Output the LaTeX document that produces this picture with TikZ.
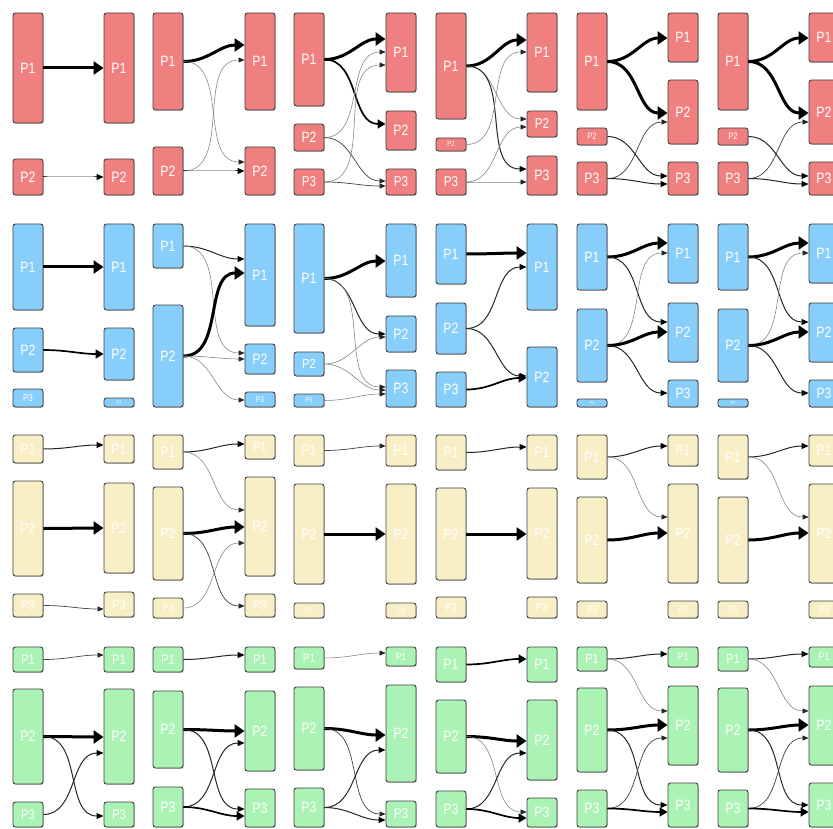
\documentclass[tikz,border=0pt]{standalone}
\usepackage{fontspec}
\newfontfamily\lab[FakeStretch=0.82]{Liberation Sans}
\usetikzlibrary{arrows.meta,shadows,calc}
\definecolor{redc}{HTML}{F08080}
\definecolor{bluec}{HTML}{87CEFA}
\definecolor{yelc}{HTML}{F9EFC6}
\definecolor{grnc}{HTML}{ABF2B5}
\definecolor{bordc}{HTML}{404040}
\tikzset{
  box/.style={draw=bordc, line width=0.9pt, rounded corners=2.5pt, minimum width=30pt,
    inner sep=0pt, text=white,
    drop shadow={shadow xshift=0.8pt, shadow yshift=-0.8pt, opacity=0.25, fill=black}},
  w1/.style={line width=0.55pt, draw=black!50, -{Triangle[length=6pt,width=5pt,color=black!85]}},
  w1d/.style={line width=0.7pt, draw=black!75, -{Triangle[length=6pt,width=5pt,color=black!85]}},
  w2/.style={line width=1pt, draw=black!85, -{Triangle[length=7pt,width=6pt,color=black]}},
  w3/.style={line width=1.7pt, draw=black, -{Triangle[length=8pt,width=9pt]}},
  w4/.style={line width=3pt, draw=black, -{Triangle[length=10pt,width=13pt]}},
}
\newcommand\bx[5]{%
  \pgfmathsetmacro\bh{#4-#3}\pgfmathsetmacro\fs{min(15,0.55*\bh)}%
  \node[box, minimum height=\bh pt, font=\lab\fontsize{\fs}{\fs}\selectfont] (#1) at ({#2+15},{(#3+#4)/2}) {#5};}
\newcommand\ed[4]{\draw[#1] (#2.east) to[out=0,in=180] (#3.west |- 0,#4);}
\begin{document}
\begin{tikzpicture}[x=1pt,y=-1pt]
\useasboundingbox (0,0) rectangle (833,829);
\fill[white] (0,0) rectangle (833,829);
% ---------------- Row A (red)
\begin{scope}[box/.append style={fill=redc}]
\bx{A1l1}{13}{13}{123}{P1}\bx{A1l2}{13}{159}{195}{P2}
\bx{A1r1}{104}{13}{123}{P1}\bx{A1r2}{104}{159}{195}{P2}
\bx{A2l1}{153}{13}{110}{P1}\bx{A2l2}{153}{147}{195}{P2}
\bx{A2r1}{245}{13}{110}{P1}\bx{A2r2}{245}{147}{195}{P2}
\bx{A3l1}{294}{13}{106}{P1}\bx{A3l2}{294}{124}{151}{P2}\bx{A3l3}{294}{169}{195}{P3}
\bx{A3r1}{386}{13}{92}{P1}\bx{A3r2}{386}{111}{150}{P2}\bx{A3r3}{386}{169}{195}{P3}
\bx{A4l1}{436}{13}{119}{P1}\bx{A4l2}{436}{138}{151}{P2}\bx{A4l3}{436}{169}{195}{P3}
\bx{A4r1}{527}{13}{92}{P1}\bx{A4r2}{527}{111}{137}{P2}\bx{A4r3}{527}{156}{195}{P3}
\bx{A5l1}{577}{13}{110}{P1}\bx{A5l2}{577}{128}{145}{P2}\bx{A5l3}{577}{162}{195}{P3}
\bx{A5r1}{668}{13}{62}{P1}\bx{A5r2}{668}{80}{144}{P2}\bx{A5r3}{668}{162}{195}{P3}
\bx{A6l1}{718}{13}{110}{P1}\bx{A6l2}{718}{128}{145}{P2}\bx{A6l3}{718}{162}{195}{P3}
\bx{A6r1}{809}{13}{62}{P1}\bx{A6r2}{809}{80}{144}{P2}\bx{A6r3}{809}{162}{195}{P3}
\end{scope}
\ed{w4}{A1l1}{A1r1}{68}\ed{w2}{A1l2}{A1r2}{177}
\ed{w4}{A2l1}{A2r1}{45}\ed{w1}{A2l1}{A2r2}{162}\ed{w1}{A2l2}{A2r1}{60}\ed{w2}{A2l2}{A2r2}{171}
\ed{w4}{A3l1}{A3r1}{39}\ed{w3}{A3l1}{A3r2}{124}\ed{w1}{A3l2}{A3r1}{52}\ed{w1d}{A3l2}{A3r3}{181}\ed{w1}{A3l3}{A3r1}{65}\ed{w1d}{A3l3}{A3r3}{186}
\ed{w4}{A4l1}{A4r1}{40}\ed{w1}{A4l1}{A4r2}{119}\ed{w2}{A4l1}{A4r3}{169}\ed{w1}{A4l2}{A4r1}{52}\ed{w1}{A4l3}{A4r2}{127}\ed{w1}{A4l3}{A4r3}{182}
\ed{w4}{A5l1}{A5r1}{38}\ed{w4}{A5l1}{A5r2}{113}\ed{w2}{A5l2}{A5r3}{176}\ed{w1d}{A5l3}{A5r2}{122}\ed{w2}{A5l3}{A5r3}{184}
\ed{w4}{A6l1}{A6r1}{38}\ed{w4}{A6l1}{A6r2}{113}\ed{w2}{A6l2}{A6r3}{176}\ed{w1d}{A6l3}{A6r2}{122}\ed{w2}{A6l3}{A6r3}{184}
% ---------------- Row B (blue)
\begin{scope}[box/.append style={fill=bluec}]
\bx{B1l1}{13}{224}{310}{P1}\bx{B1l2}{13}{328}{372}{P2}\bx{B1l3}{13}{389}{407}{P3}
\bx{B1r1}{104}{224}{310}{P1}\bx{B1r2}{104}{328}{380}{P2}\bx{B1r3}{104}{398}{407}{P3}
\bx{B2l1}{153}{224}{268}{P1}\bx{B2l2}{153}{305}{407}{P2}
\bx{B2r1}{245}{224}{326}{P1}\bx{B2r2}{245}{344}{374}{P2}\bx{B2r3}{245}{392}{407}{P3}
\bx{B3l1}{294}{224}{333}{P1}\bx{B3l2}{294}{352}{376}{P2}\bx{B3l3}{294}{394}{407}{P3}
\bx{B3r1}{386}{224}{297}{P1}\bx{B3r2}{386}{316}{352}{P2}\bx{B3r3}{386}{370}{407}{P3}
\bx{B4l1}{436}{224}{284}{P1}\bx{B4l2}{436}{303}{354}{P2}\bx{B4l3}{436}{372}{407}{P3}
\bx{B4r1}{527}{224}{310}{P1}\bx{B4r2}{527}{347}{407}{P2}
\bx{B5l1}{577}{224}{290}{P1}\bx{B5l2}{577}{309}{382}{P2}\bx{B5l3}{577}{399}{407}{P3}
\bx{B5r1}{668}{224}{283}{P1}\bx{B5r2}{668}{303}{362}{P2}\bx{B5r3}{668}{380}{407}{P3}
\bx{B6l1}{718}{224}{290}{P1}\bx{B6l2}{718}{309}{382}{P2}\bx{B6l3}{718}{399}{407}{P3}
\bx{B6r1}{809}{224}{283}{P1}\bx{B6r2}{809}{303}{362}{P2}\bx{B6r3}{809}{380}{407}{P3}
\end{scope}
\ed{w4}{B1l1}{B1r1}{267}\ed{w3}{B1l2}{B1r2}{354}
\ed{w2}{B2l1}{B2r1}{259}\ed{w1}{B2l1}{B2r2}{353}\ed{w4}{B2l2}{B2r1}{273}\ed{w1}{B2l2}{B2r2}{359}\ed{w1}{B2l2}{B2r3}{400}
\ed{w4}{B3l1}{B3r1}{261}\ed{w2}{B3l1}{B3r2}{334}\ed{w1}{B3l1}{B3r3}{387}\ed{w1}{B3l2}{B3r2}{337}\ed{w1}{B3l2}{B3r3}{390}\ed{w1}{B3l3}{B3r3}{394}
\ed{w4}{B4l1}{B4r1}{253}\ed{w2}{B4l2}{B4r1}{267}\ed{w2}{B4l2}{B4r2}{376}\ed{w3}{B4l3}{B4r2}{378}
\ed{w4}{B5l1}{B5r1}{243}\ed{w2}{B5l1}{B5r2}{322}\ed{w1}{B5l2}{B5r1}{253}\ed{w4}{B5l2}{B5r2}{332}\ed{w2}{B5l2}{B5r3}{393}
\ed{w4}{B6l1}{B6r1}{243}\ed{w2}{B6l1}{B6r2}{322}\ed{w1}{B6l2}{B6r1}{253}\ed{w4}{B6l2}{B6r2}{332}\ed{w2}{B6l2}{B6r3}{393}
% ---------------- Row C (yellow)
\begin{scope}[box/.append style={fill=yelc}]
\bx{C1l1}{13}{435}{463}{P1}\bx{C1l2}{13}{481}{576}{P2}\bx{C1l3}{13}{594}{617}{P3}
\bx{C1r1}{104}{435}{463}{P1}\bx{C1r2}{104}{483}{573}{P2}\bx{C1r3}{104}{592}{617}{P3}
\bx{C2l1}{153}{435}{469}{P1}\bx{C2l2}{153}{487}{580}{P2}\bx{C2l3}{153}{598}{618}{P3}
\bx{C2r1}{245}{435}{459}{P1}\bx{C2r2}{245}{477}{576}{P2}\bx{C2r3}{245}{594}{617}{P3}
\bx{C3l1}{294}{435}{466}{P1}\bx{C3l2}{294}{484}{584}{P2}\bx{C3l3}{294}{603}{618}{P3}
\bx{C3r1}{386}{435}{466}{P1}\bx{C3r2}{386}{484}{584}{P2}\bx{C3r3}{386}{603}{618}{P3}
\bx{C4l1}{436}{435}{470}{P1}\bx{C4l2}{436}{488}{580}{P2}\bx{C4l3}{436}{597}{618}{P3}
\bx{C4r1}{527}{435}{470}{P1}\bx{C4r2}{527}{488}{579}{P2}\bx{C4r3}{527}{597}{618}{P3}
\bx{C5l1}{577}{435}{479}{P1}\bx{C5l2}{577}{497}{583}{P2}\bx{C5l3}{577}{601}{618}{P3}
\bx{C5r1}{668}{435}{466}{P1}\bx{C5r2}{668}{484}{583}{P2}\bx{C5r3}{668}{601}{618}{P3}
\bx{C6l1}{718}{435}{479}{P1}\bx{C6l2}{718}{497}{583}{P2}\bx{C6l3}{718}{601}{618}{P3}
\bx{C6r1}{809}{435}{466}{P1}\bx{C6r2}{809}{484}{583}{P2}\bx{C6r3}{809}{601}{618}{P3}
\end{scope}
\ed{w2}{C1l1}{C1r1}{445}\ed{w4}{C1l2}{C1r2}{528}\ed{w1d}{C1l3}{C1r3}{609}
\ed{w2}{C2l1}{C2r1}{444}\ed{w1}{C2l1}{C2r2}{510}\ed{w4}{C2l2}{C2r2}{527}\ed{w1d}{C2l2}{C2r3}{606}\ed{w1}{C2l3}{C2r2}{543}
\ed{w1d}{C3l1}{C3r1}{446}\ed{w4}{C3l2}{C3r2}{534}
\ed{w2}{C4l1}{C4r1}{447}\ed{w4}{C4l2}{C4r2}{534}
\ed{w2}{C5l1}{C5r1}{446}\ed{w1}{C5l1}{C5r2}{517}\ed{w4}{C5l2}{C5r2}{533}
\ed{w2}{C6l1}{C6r1}{446}\ed{w1}{C6l1}{C6r2}{517}\ed{w4}{C6l2}{C6r2}{533}
% ---------------- Row D (green)
\begin{scope}[box/.append style={fill=grnc}]
\bx{D1l1}{13}{647}{672}{P1}\bx{D1l2}{13}{689}{784}{P2}\bx{D1l3}{13}{802}{827}{P3}
\bx{D1r1}{104}{647}{672}{P1}\bx{D1r2}{104}{689}{784}{P2}\bx{D1r3}{104}{802}{827}{P3}
\bx{D2l1}{153}{647}{672}{P1}\bx{D2l2}{153}{691}{768}{P2}\bx{D2l3}{153}{787}{827}{P3}
\bx{D2r1}{245}{647}{672}{P1}\bx{D2r2}{245}{691}{771}{P2}\bx{D2r3}{245}{789}{827}{P3}
\bx{D3l1}{294}{647}{669}{P1}\bx{D3l2}{294}{687}{770}{P2}\bx{D3l3}{294}{788}{827}{P3}
\bx{D3r1}{386}{647}{666}{P1}\bx{D3r2}{386}{685}{782}{P2}\bx{D3r3}{386}{801}{827}{P3}
\bx{D4l1}{436}{647}{682}{P1}\bx{D4l2}{436}{700}{773}{P2}\bx{D4l3}{436}{791}{827}{P3}
\bx{D4r1}{527}{647}{682}{P1}\bx{D4r2}{527}{700}{780}{P2}\bx{D4r3}{527}{798}{827}{P3}
\bx{D5l1}{577}{647}{671}{P1}\bx{D5l2}{577}{688}{772}{P2}\bx{D5l3}{577}{790}{827}{P3}
\bx{D5r1}{668}{647}{667}{P1}\bx{D5r2}{668}{686}{765}{P2}\bx{D5r3}{668}{783}{827}{P3}
\bx{D6l1}{718}{647}{671}{P1}\bx{D6l2}{718}{688}{772}{P2}\bx{D6l3}{718}{790}{827}{P3}
\bx{D6r1}{809}{647}{667}{P1}\bx{D6r2}{809}{686}{765}{P2}\bx{D6r3}{809}{783}{827}{P3}
\end{scope}
\ed{w1d}{D1l1}{D1r1}{655}\ed{w4}{D1l2}{D1r2}{737}\ed{w2}{D1l2}{D1r3}{816}\ed{w2}{D1l3}{D1r2}{753}
\ed{w2}{D2l1}{D2r1}{655}\ed{w4}{D2l2}{D2r2}{731}\ed{w2}{D2l2}{D2r3}{809}\ed{w2}{D2l3}{D2r2}{743}\ed{w3}{D2l3}{D2r3}{816}
\ed{w1}{D3l1}{D3r1}{653}\ed{w4}{D3l2}{D3r2}{735}\ed{w1d}{D3l2}{D3r3}{814}\ed{w2}{D3l3}{D3r2}{750}\ed{w2}{D3l3}{D3r3}{820}
\ed{w3}{D4l1}{D4r1}{659}\ed{w4}{D4l2}{D4r2}{741}\ed{w1}{D4l2}{D4r3}{812}\ed{w2}{D4l3}{D4r2}{753}\ed{w3}{D4l3}{D4r3}{818}
\ed{w2}{D5l1}{D5r1}{654}\ed{w1}{D5l1}{D5r2}{711}\ed{w4}{D5l2}{D5r2}{725}\ed{w2}{D5l2}{D5r3}{805}\ed{w1d}{D5l3}{D5r2}{738}\ed{w3}{D5l3}{D5r3}{812}
\ed{w2}{D6l1}{D6r1}{654}\ed{w1}{D6l1}{D6r2}{711}\ed{w4}{D6l2}{D6r2}{725}\ed{w2}{D6l2}{D6r3}{805}\ed{w1d}{D6l3}{D6r2}{738}\ed{w3}{D6l3}{D6r3}{812}
\end{tikzpicture}
\end{document}
